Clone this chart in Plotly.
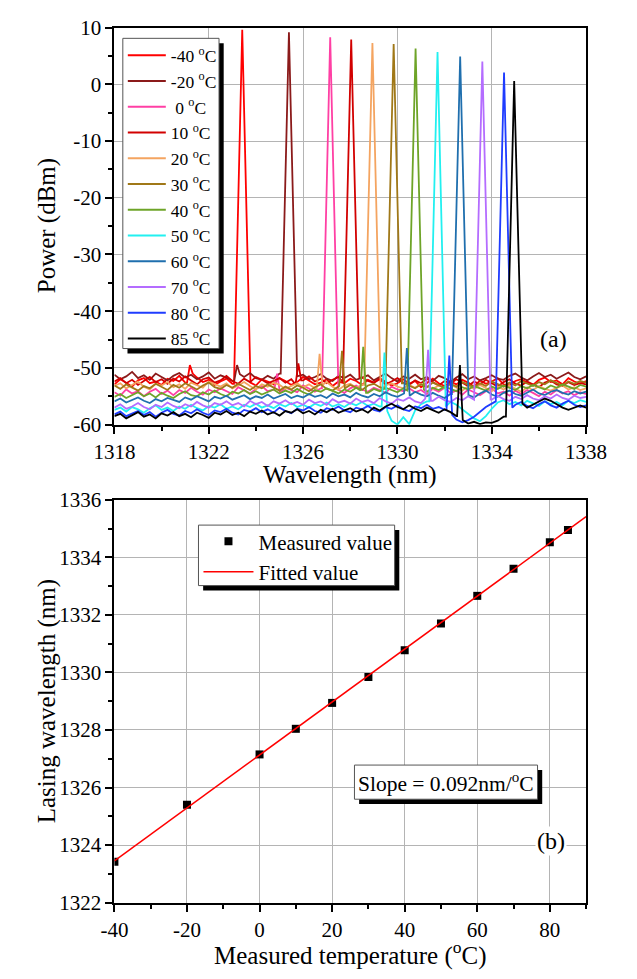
import numpy as np
import plotly.graph_objects as go

# ---------------------------------------------------------------- data
TEMPS_C = [-40, -20, 0, 10, 20, 30, 40, 50, 60, 70, 80, 85]
COLORS = ["#ff0000", "#8b1a1a", "#ff3fa4", "#d20000", "#f4a460", "#a07818",
          "#6ea428", "#22f0f0", "#1f6fae", "#b46cff", "#1f3cff", "#000000"]

# lasing peak wavelength (nm) and peak power (dBm) at each temperature
LASING_WL_NM = [1323.42, 1325.40, 1327.15, 1328.04, 1328.94, 1329.84,
                1330.77, 1331.70, 1332.66, 1333.60, 1334.52, 1334.95]
PEAK_DBM = [9.6, 9.2, 8.3, 7.9, 7.3, 7.1, 6.3, 5.7, 4.9, 4.0, 2.1, 0.6]

# weak side mode of each spectrum
SIDE_WL_NM = [1321.2, 1323.2, 1324.9, 1325.8, 1326.7, 1327.65,
              1328.55, 1329.45, 1330.4, 1331.3, 1332.2, 1332.65]
SIDE_DBM = [-49.5, -49.5, -51.0, -49.2, -47.5, -47.0,
            -46.3, -47.3, -46.5, -46.8, -47.8, -49.5]

PEAK_HALF_WIDTH_NM = 0.35   # half width of the lasing line at the noise floor
SIDE_HALF_WIDTH_NM = 0.12

# noise floor of each spectrum (dBm), 1318 nm to 1338 nm
FLOOR_M40 = [-52.9,-52.0,-52.6,-53.3,-52.2,-51.8,-52.7,-52.4,-53.0,-51.9,-52.3,-51.4,-52.6,-51.0,-51.7,-52.5,-52.1,-53.0,-52.4,-51.9,-52.8,-52.2,-51.7,-52.6,-53.1,-52.0,-52.4,-52.9,-51.8,-52.3,-53.0,-52.5,-51.6,-52.2,-52.9,-52.6,-52.0,-53.2,-52.4,-52.7,-51.9,-52.3,-53.0,-52.1,-52.6,-51.8,-52.5,-53.1,-52.7,-52.0,-52.8,-52.3,-53.4,-52.6,-51.9,-52.7,-53.2,-52.4,-52.9,-52.1,-52.6,-53.3,-52.2,-52.8,-52.4,-51.8,-52.9,-53.1,-52.3,-52.0,-52.6,-53.0,-52.1,-51.7,-52.5,-52.2,-52.9,-51.8,-52.4,-52.8,-52.3]
FLOOR_M20 = [-51.2,-52.0,-51.5,-50.7,-51.8,-51.3,-52.1,-51.0,-51.6,-52.2,-51.4,-50.9,-51.7,-51.2,-52.0,-51.5,-50.8,-51.9,-51.3,-51.7,-52.3,-51.1,-51.6,-50.9,-51.8,-52.1,-51.4,-51.9,-51.0,-51.7,-52.4,-51.5,-51.2,-52.0,-51.6,-51.1,-51.9,-52.3,-51.4,-51.8,-51.2,-52.1,-51.7,-51.3,-52.2,-51.6,-51.0,-51.8,-52.4,-51.5,-51.9,-51.2,-52.0,-51.6,-52.3,-51.4,-51.8,-52.5,-51.7,-51.1,-52.0,-51.5,-52.2,-51.8,-51.3,-51.9,-52.1,-51.4,-51.0,-51.7,-52.2,-51.5,-50.9,-51.6,-51.2,-51.9,-51.4,-50.8,-51.6,-52.0,-51.5]
FLOOR_P0 = [-54.3,-54.9,-53.8,-54.5,-54.1,-55.0,-54.2,-53.7,-54.6,-54.0,-54.8,-53.9,-54.4,-53.5,-54.2,-54.7,-53.8,-54.3,-53.6,-54.1,-54.6,-53.4,-54.0,-54.5,-53.7,-53.2,-54.1,-53.8,-54.4,-53.5,-53.9,-54.3,-53.1,-53.7,-54.2,-53.6,-54.0,-53.3,-53.9,-54.4,-53.6,-53.1,-53.8,-54.2,-53.5,-53.9,-54.4,-53.3,-53.8,-54.1,-53.6,-54.3,-53.9,-54.6,-53.7,-54.2,-53.5,-54.4,-54.0,-54.7,-53.8,-54.3,-54.8,-54.1,-53.6,-54.5,-54.2,-54.9,-54.0,-54.6,-53.9,-54.4,-55.0,-54.2,-54.7,-53.9,-54.5,-54.1,-54.8,-54.3,-54.6]
FLOOR_P10 = [-52.4,-51.8,-52.7,-52.1,-53.0,-52.3,-51.6,-52.5,-52.0,-52.8,-51.9,-52.4,-51.5,-52.2,-52.9,-52.0,-51.7,-52.6,-52.2,-51.4,-52.3,-52.8,-51.9,-52.5,-51.6,-52.1,-52.7,-52.3,-51.8,-52.6,-52.0,-52.9,-52.2,-51.5,-52.4,-51.9,-52.7,-52.1,-51.6,-52.5,-52.0,-52.8,-51.7,-52.3,-52.6,-52.0,-52.9,-52.4,-51.8,-52.6,-53.0,-52.2,-52.7,-51.9,-52.5,-53.1,-52.3,-52.8,-52.0,-52.6,-53.2,-52.4,-52.9,-52.1,-52.7,-53.3,-52.5,-52.0,-52.8,-53.1,-52.4,-52.9,-53.4,-52.6,-52.2,-52.9,-53.2,-52.5,-53.0,-52.7,-52.9]
FLOOR_P20 = [-53.2,-52.7,-53.6,-53.0,-52.4,-53.3,-53.8,-52.8,-53.1,-52.5,-53.4,-52.9,-53.7,-52.6,-53.0,-53.5,-52.4,-52.9,-53.3,-52.7,-53.6,-53.1,-52.5,-53.2,-53.8,-52.9,-53.3,-52.6,-53.0,-53.7,-53.2,-52.7,-53.4,-52.9,-53.6,-53.0,-52.5,-53.3,-53.9,-53.1,-52.8,-53.5,-53.0,-52.6,-53.4,-53.8,-53.1,-52.7,-53.3,-53.6,-53.0,-53.5,-52.8,-53.2,-53.7,-53.1,-53.6,-52.9,-53.4,-54.0,-53.2,-53.7,-53.0,-53.5,-54.1,-53.3,-53.8,-53.1,-53.6,-54.2,-53.4,-53.9,-53.2,-53.7,-54.0,-53.5,-53.1,-53.8,-53.4,-53.9,-53.6]
FLOOR_P30 = [-53.1,-53.7,-52.9,-53.5,-54.0,-53.2,-53.6,-52.8,-53.4,-53.9,-53.0,-53.5,-52.7,-53.3,-53.8,-53.1,-52.6,-53.4,-53.7,-53.0,-53.5,-52.8,-53.3,-53.9,-53.2,-53.6,-52.9,-53.4,-54.0,-53.3,-53.8,-53.1,-53.5,-54.1,-53.4,-52.9,-53.7,-54.0,-53.2,-53.6,-53.0,-53.5,-53.9,-53.1,-52.8,-53.4,-53.7,-53.0,-53.5,-52.7,-53.2,-53.6,-52.9,-53.4,-52.6,-53.1,-53.5,-52.8,-53.3,-52.5,-53.0,-53.4,-52.7,-53.2,-52.4,-52.9,-53.3,-52.6,-53.1,-52.3,-52.8,-53.2,-52.5,-52.9,-52.2,-52.7,-53.1,-52.4,-52.8,-52.3,-52.6]
FLOOR_P40 = [-55.1,-54.6,-55.3,-54.8,-54.3,-55.0,-54.5,-55.2,-54.4,-54.9,-55.3,-54.6,-54.1,-54.8,-55.0,-54.3,-54.7,-54.0,-54.6,-55.0,-54.2,-54.5,-53.9,-54.6,-54.1,-54.7,-54.3,-53.8,-54.5,-54.0,-54.4,-53.7,-54.3,-54.7,-53.9,-54.2,-53.6,-54.1,-54.5,-53.8,-54.2,-53.5,-54.0,-54.4,-53.7,-54.1,-53.5,-53.9,-54.3,-53.6,-54.0,-53.4,-53.8,-54.2,-53.5,-53.9,-53.3,-53.7,-54.1,-53.4,-53.8,-53.2,-53.6,-54.0,-53.3,-53.7,-53.1,-53.5,-53.9,-53.2,-53.6,-53.0,-53.4,-53.8,-53.1,-53.5,-52.9,-53.3,-53.7,-53.0,-53.3]
FLOOR_P50 = [-57.4,-57.0,-57.7,-56.9,-57.3,-57.9,-57.1,-56.6,-57.4,-57.0,-57.6,-56.8,-57.2,-56.5,-57.1,-57.5,-56.7,-57.0,-56.4,-57.2,-56.8,-57.3,-56.5,-56.9,-56.3,-57.0,-56.6,-57.1,-56.4,-56.8,-56.2,-56.9,-56.5,-57.0,-56.3,-56.7,-56.1,-56.8,-56.4,-56.9,-56.2,-56.6,-56.0,-56.7,-56.3,-56.8,-57.6,-59.3,-60.0,-58.7,-59.9,-57.5,-56.4,-55.9,-56.6,-56.2,-56.8,-56.0,-56.5,-57.3,-58.1,-58.9,-59.4,-58.5,-57.2,-56.1,-55.7,-56.4,-56.0,-56.6,-55.8,-56.3,-56.7,-55.9,-56.4,-56.0,-56.6,-55.8,-56.2,-55.7,-56.0]
FLOOR_P60 = [-55.9,-55.4,-56.1,-55.6,-55.2,-55.8,-56.2,-55.5,-55.9,-55.3,-55.7,-56.0,-55.2,-55.6,-55.0,-55.5,-55.9,-55.1,-55.4,-54.9,-55.6,-55.2,-54.8,-55.5,-55.0,-55.3,-54.7,-55.4,-55.0,-54.6,-55.3,-54.9,-55.2,-54.6,-55.1,-54.8,-55.3,-54.5,-55.0,-54.7,-55.2,-54.4,-54.9,-55.2,-54.6,-55.0,-54.3,-54.8,-55.1,-54.5,-54.9,-54.2,-54.7,-55.0,-54.4,-54.9,-55.3,-54.6,-55.0,-54.3,-54.8,-55.2,-54.5,-54.0,-54.7,-55.1,-54.4,-54.0,-54.6,-54.9,-54.3,-53.8,-54.5,-54.8,-54.2,-53.9,-54.4,-54.7,-54.1,-54.5,-54.2]
FLOOR_P70 = [-57.0,-56.4,-57.2,-56.8,-56.2,-56.9,-57.3,-56.5,-56.9,-56.1,-56.7,-57.1,-56.4,-56.8,-56.0,-56.6,-57.0,-56.2,-56.5,-55.9,-56.6,-56.2,-56.8,-55.8,-56.4,-56.0,-56.7,-55.9,-56.3,-55.7,-56.4,-56.0,-56.5,-55.6,-56.2,-55.9,-56.5,-55.5,-56.1,-55.8,-56.3,-55.4,-56.0,-55.7,-56.2,-55.3,-55.9,-56.3,-55.5,-55.8,-55.2,-55.9,-56.2,-55.4,-55.8,-55.1,-55.7,-56.0,-55.3,-55.7,-55.0,-55.6,-55.9,-55.2,-55.6,-54.9,-55.5,-55.8,-55.1,-55.5,-54.8,-55.4,-55.7,-55.0,-55.4,-54.7,-55.3,-55.6,-54.9,-55.3,-55.1]
FLOOR_P80 = [-58.2,-57.7,-58.5,-58.0,-57.6,-58.3,-57.8,-58.6,-57.9,-57.4,-58.1,-58.4,-57.6,-58.0,-57.3,-57.9,-58.3,-57.5,-57.8,-57.2,-57.9,-58.2,-57.4,-57.7,-57.1,-57.8,-57.3,-57.9,-57.0,-57.6,-58.0,-57.2,-57.5,-56.9,-57.6,-57.9,-57.1,-57.4,-56.8,-57.5,-57.8,-57.0,-57.3,-56.7,-57.4,-57.7,-56.9,-57.2,-56.6,-57.3,-57.6,-56.8,-57.1,-56.5,-57.2,-56.9,-57.4,-58.3,-59.1,-59.6,-59.2,-58.6,-57.7,-56.9,-56.3,-55.9,-56.4,-57.0,-56.5,-56.0,-56.7,-57.1,-56.4,-55.9,-56.6,-57.0,-56.3,-55.8,-56.5,-56.9,-56.6]
FLOOR_P85 = [-58.5,-58.1,-58.9,-58.3,-57.8,-58.6,-58.2,-58.9,-58.0,-58.4,-57.8,-58.5,-58.1,-58.7,-57.9,-58.3,-58.8,-57.9,-58.2,-57.6,-58.3,-57.9,-58.5,-57.7,-58.1,-57.5,-58.2,-57.8,-58.4,-57.6,-57.9,-57.3,-58.0,-57.6,-58.2,-57.4,-57.8,-57.2,-57.9,-57.5,-57.1,-57.7,-57.3,-57.9,-57.0,-57.5,-56.8,-56.3,-56.9,-57.3,-56.6,-57.2,-57.6,-57.0,-57.4,-57.9,-57.3,-57.8,-58.5,-59.2,-59.8,-59.5,-59.9,-59.6,-59.7,-59.3,-58.6,-57.4,-56.8,-56.3,-57.0,-56.5,-55.9,-55.4,-55.8,-56.4,-57.0,-57.4,-57.0,-56.6,-57.0]
FLOORS = [FLOOR_M40, FLOOR_M20, FLOOR_P0, FLOOR_P10, FLOOR_P20, FLOOR_P30,
          FLOOR_P40, FLOOR_P50, FLOOR_P60, FLOOR_P70, FLOOR_P80, FLOOR_P85]

SLOPE_NM_PER_C = 0.092

# axes
X1_RANGE = [1318, 1338]
X1_TICKS = [1318, 1322, 1326, 1330, 1334, 1338]
Y1_RANGE = [-60, 10]
Y1_TICKS = [10, 0, -10, -20, -30, -40, -50, -60]
X2_RANGE = [-40, 90]
X2_TICKS = [-40, -20, 0, 20, 40, 60, 80]
Y2_RANGE = [1322, 1336]
Y2_TICKS = [1322, 1324, 1326, 1328, 1330, 1332, 1334, 1336]

# ---------------------------------------------------------------- layout helpers
W, H = 637, 979
FONT = "Liberation Serif, Times New Roman, serif"


def fx(p):
    return p / W


def fy(p):
    return 1 - p / H


def spectrum(floor, peak_wl, peak_dbm, side_wl, side_dbm):
    wl = np.linspace(X1_RANGE[0], X1_RANGE[1], len(floor))
    pw = np.asarray(floor, dtype=float)

    def floor_at(x):
        return pw[np.argmin(np.abs(wl - x))]

    keep = (np.abs(wl - peak_wl) > PEAK_HALF_WIDTH_NM) & \
           (np.abs(wl - side_wl) > SIDE_HALF_WIDTH_NM)
    ex = [peak_wl - PEAK_HALF_WIDTH_NM, peak_wl, peak_wl + PEAK_HALF_WIDTH_NM,
          side_wl - SIDE_HALF_WIDTH_NM, side_wl, side_wl + SIDE_HALF_WIDTH_NM]
    ey = [floor_at(ex[0]), peak_dbm, floor_at(ex[2]),
          floor_at(ex[3]), side_dbm, floor_at(ex[5])]
    x = np.concatenate([wl[keep], ex])
    y = np.concatenate([pw[keep], ey])
    order = np.argsort(x)
    return x[order], y[order]


fig = go.Figure()

# ---------------------------------------------------------------- (a) spectra
for t, col, fl, pwl, pdb, swl, sdb in zip(TEMPS_C, COLORS, FLOORS, LASING_WL_NM,
                                          PEAK_DBM, SIDE_WL_NM, SIDE_DBM):
    x, y = spectrum(fl, pwl, pdb, swl, sdb)
    name = ("\u00a0" if abs(t) < 10 else "") + f"{t} <sup>o</sup>C"
    fig.add_trace(go.Scatter(x=x, y=y, mode="lines", name=name,
                             line=dict(color=col, width=1.8),
                             xaxis="x", yaxis="y", legend="legend"))

# ---------------------------------------------------------------- (b) wavelength vs temperature
t_arr = np.asarray(TEMPS_C, dtype=float)
wl_arr = np.asarray(LASING_WL_NM)
intercept = wl_arr.mean() - SLOPE_NM_PER_C * t_arr.mean()
fit_t = np.asarray(X2_RANGE, dtype=float)
fig.add_trace(go.Scatter(x=TEMPS_C, y=LASING_WL_NM, mode="markers", name="Measured value",
                         marker=dict(symbol="square", size=8, color="black"),
                         xaxis="x2", yaxis="y2", legend="legend2"))
fig.add_trace(go.Scatter(x=fit_t, y=intercept + SLOPE_NM_PER_C * fit_t, mode="lines",
                         name="Fitted value", line=dict(color="#ff0000", width=1.5),
                         xaxis="x2", yaxis="y2", legend="legend2"))

axis_common = dict(showline=True, linecolor="black", linewidth=2, mirror=True,
                   ticks="outside", ticklen=7, tickwidth=1.5, tickcolor="black",
                   showgrid=True, gridcolor="#b4b4b4", gridwidth=1, zeroline=False,
                   tickfont=dict(family=FONT, size=21, color="black"))
minor_common = dict(ticks="outside", ticklen=4, tickwidth=1.5, tickcolor="black", showgrid=False)

PLOT_X = [fx(100), fx(605)]
fig.update_layout(
    width=W, height=H, margin=dict(l=0, r=0, t=0, b=0),
    paper_bgcolor="white", plot_bgcolor="white",
    font=dict(family=FONT, color="black"),
    xaxis=dict(domain=PLOT_X, anchor="y", range=X1_RANGE, tickmode="array",
               tickvals=X1_TICKS, ticktext=[str(v) for v in X1_TICKS],
               minor=dict(dtick=2, tick0=X1_RANGE[0], **minor_common), **axis_common),
    yaxis=dict(domain=[fy(423), fy(16)], anchor="x", range=Y1_RANGE, tickmode="array",
               tickvals=Y1_TICKS, ticktext=[str(v) for v in Y1_TICKS],
               minor=dict(dtick=5, tick0=0, **minor_common), **axis_common),
    xaxis2=dict(domain=PLOT_X, anchor="y2", range=X2_RANGE, tickmode="array",
                tickvals=X2_TICKS, ticktext=[str(v) for v in X2_TICKS],
                minor=dict(dtick=10, tick0=0, **minor_common), **axis_common),
    yaxis2=dict(domain=[fy(913), fy(500)], anchor="x2", range=Y2_RANGE, tickmode="array",
                tickvals=Y2_TICKS, ticktext=[str(v) for v in Y2_TICKS],
                minor=dict(dtick=1, tick0=0, **minor_common), **axis_common),
    legend=dict(x=fx(109), y=fy(26), xanchor="left", yanchor="top",
                bgcolor="rgba(0,0,0,0)", borderwidth=0,
                font=dict(family=FONT, size=17.5, color="black"),
                tracegroupgap=0, itemwidth=38),
    legend2=dict(x=fx(190), y=fy(522), xanchor="left", yanchor="top",
                 bgcolor="rgba(0,0,0,0)", borderwidth=0,
                 font=dict(family=FONT, size=21, color="black"),
                 tracegroupgap=0, itemwidth=50),
    showlegend=True,
)

# framed boxes with a drop shadow: the two legends and the slope label
SHADOW = 5
for x0, y0, x1, y1 in [(109, 27, 212, 345), (190, 526, 400, 588), (357, 772, 553, 807)]:
    fig.add_shape(type="rect", xref="paper", yref="paper",
                  x0=fx(x0 + SHADOW), x1=fx(x1 + SHADOW),
                  y0=fy(y1 + SHADOW), y1=fy(y0 + SHADOW),
                  fillcolor="black", line=dict(width=0), layer="above")
    fig.add_shape(type="rect", xref="paper", yref="paper",
                  x0=fx(x0), x1=fx(x1), y0=fy(y1), y1=fy(y0),
                  fillcolor="white", line=dict(color="#555", width=1), layer="above")

title_font = dict(family=FONT, size=25, color="black")
annos = [
    dict(text="Power (dBm)", x=fx(28), y=fy(219.5), textangle=-90),
    dict(text="Wavelength (nm)", x=fx(352.5), y=fy(475)),
    dict(text="Lasing wavelength (nm)", x=fx(28), y=fy(706.5), textangle=-90),
    dict(text="Measured temperature (<sup>o</sup>C)", x=fx(352.5), y=fy(965)),
]
for a in annos:
    fig.add_annotation(xref="paper", yref="paper", showarrow=False,
                       xanchor="center", yanchor="middle", font=title_font, **a)

fig.add_annotation(text="(a)", x=fx(570), y=fy(335), xref="paper", yref="paper",
                   xanchor="center", yanchor="middle", showarrow=False,
                   font=dict(family=FONT, size=24, color="black"))
fig.add_annotation(text="(b)", x=fx(567), y=fy(850), xref="paper", yref="paper",
                   xanchor="center", yanchor="middle", showarrow=False, bgcolor="white",
                   font=dict(family=FONT, size=24, color="black"))
fig.add_annotation(text=f"Slope = {SLOPE_NM_PER_C:.3f}nm/<sup>o</sup>C",
                   x=fx(455), y=fy(790), xref="paper", yref="paper", showarrow=False,
                   xanchor="center", yanchor="middle",
                   font=dict(family=FONT, size=21.5, color="black"))

fig.write_html("out.html")
